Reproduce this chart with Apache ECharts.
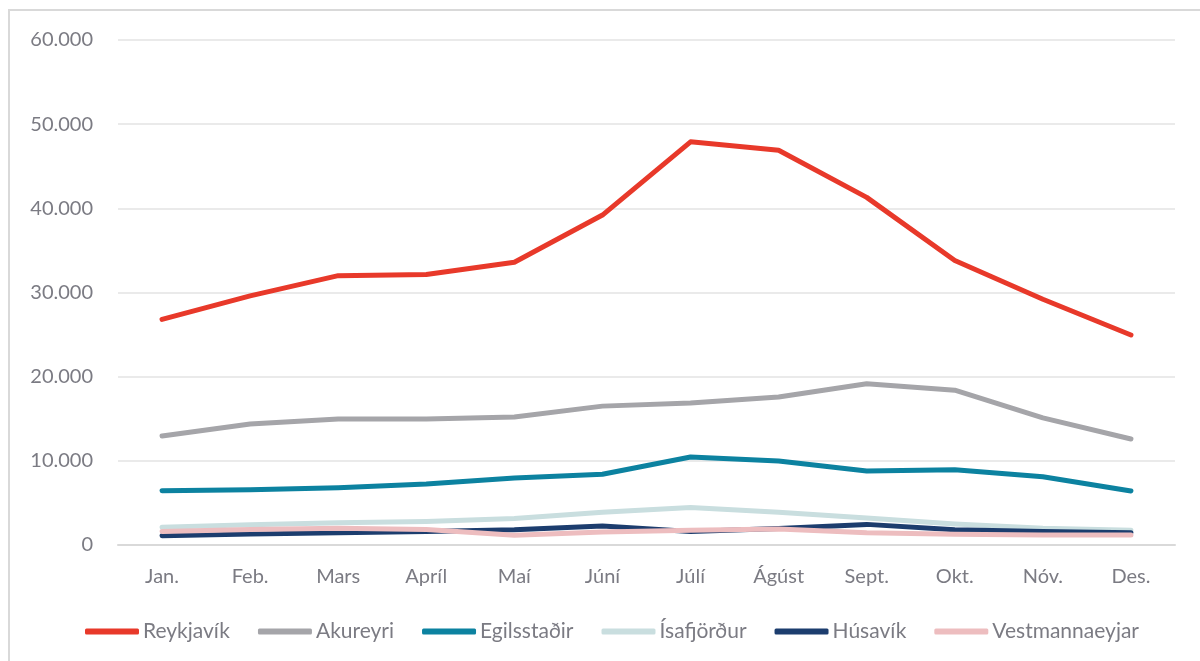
<!DOCTYPE html>
<html><head><meta charset="utf-8">
<script src="https://cdn.jsdelivr.net/npm/echarts@6/dist/echarts.min.js"></script>
<style>html,body{margin:0;padding:0;background:#fff}#c{width:1200px;height:661px}</style>
</head><body><div id="c"></div>
<script>
const months = ['Jan.','Feb.','Mars','Apríl','Maí','Júní','Júlí','Ágúst','Sept.','Okt.','Nóv.','Des.'];
const reykjavik = [26800,29600,32000,32150,33600,39200,47900,46900,41300,33800,29200,24950];
const akureyri = [12950,14380,14970,14970,15200,16500,16870,17580,19150,18400,15100,12600];
const egilsstadir = [6450,6550,6800,7250,7950,8400,10450,9980,8800,8950,8100,6420];
const isafjordur = [2100,2400,2650,2800,3150,3900,4450,3900,3200,2500,2000,1750];
const husavik = [1110,1300,1470,1600,1800,2250,1600,1950,2450,1800,1600,1450];
const vestmannaeyjar = [1600,1850,2000,1850,1150,1550,1750,1900,1450,1280,1200,1200];

const names = ['Reykjavík','Akureyri','Egilsstaðir','Ísafjörður','Húsavík','Vestmannaeyjar'];
const colors = ['#E8392A','#A5A5A9','#0C82A0','#C9DEDF','#1C3D6E','#EDBDBF'];
const values = [reykjavik,akureyri,egilsstadir,isafjordur,husavik,vestmannaeyjar];
const textColor = '#7b7b83';
const font = 'Lato';

const chart = echarts.init(document.getElementById('c'));
chart.setOption({
  animation:false,
  backgroundColor:'#fff',
  color:colors,
  graphic:[{type:'rect',shape:{x:9,y:10,width:1400,height:1000},style:{fill:null,stroke:'#d9d9d9',lineWidth:2},silent:true}],
  grid:{left:118,right:25,top:40,bottom:116,containLabel:false},
  legend:{
    bottom:14,left:80,itemWidth:54,itemHeight:6,itemGap:28,
    icon:'roundRect',
    textStyle:{color:textColor,fontSize:21,fontFamily:font,padding:[0,0,0,-1]},
    data:names
  },
  xAxis:{
    type:'category',data:months,boundaryGap:true,
    axisLine:{lineStyle:{color:'#d9d9d9',width:2}},
    axisTick:{show:false},
    axisLabel:{color:textColor,fontSize:20,fontFamily:font,margin:22}
  },
  yAxis:{
    type:'value',min:0,max:60000,interval:10000,
    axisLine:{show:false},axisTick:{show:false},
    splitLine:{lineStyle:{color:'#e3e3e3',width:1.5}},
    axisLabel:{color:textColor,fontSize:20,fontFamily:font,margin:25,
      formatter:v=>v===0?'0':v.toLocaleString('de-DE')}
  },
  series:names.map((n,i)=>({
    name:n,type:'line',data:values[i],symbol:'none',
    lineStyle:{width:5,color:colors[i],cap:'round',join:'round'},
    itemStyle:{color:colors[i]}
  }))
});
</script></body></html>
